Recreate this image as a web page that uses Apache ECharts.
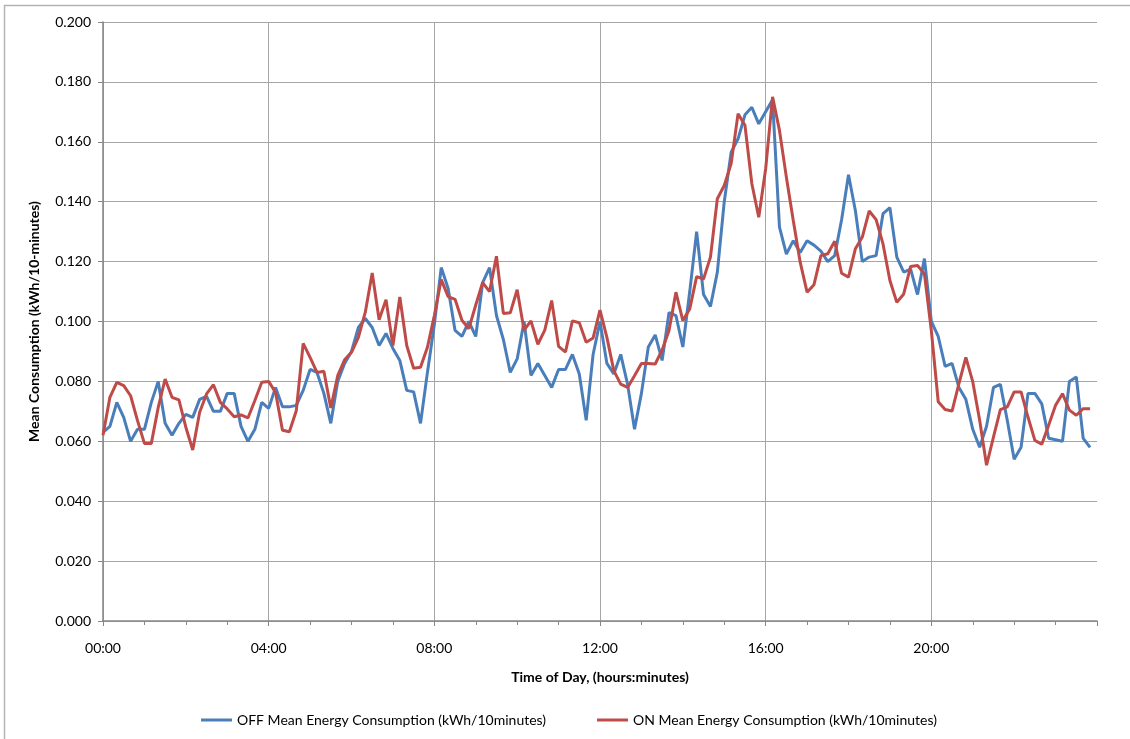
<!DOCTYPE html>
<html>
<head>
<meta charset="utf-8">
<title>Mean Energy Consumption</title>
<script src="https://cdn.jsdelivr.net/npm/echarts@6/dist/echarts.min.js"></script>
<style>
  html, body { margin: 0; padding: 0; background: #fff; }
  #chart { width: 1130px; height: 739px; }
</style>
</head>
<body>
<div id="chart"></div>
<script>
// one sample every 10 minutes, 00:00 .. 23:50 (x in minutes)
const minutes = [];
for (let i = 0; i < 144; i++) minutes.push(i * 10);

const xTickLabels = ["00:00", "04:00", "08:00", "12:00", "16:00", "20:00"];

const offMean = [
  0.063, 0.065, 0.073, 0.068, 0.060, 0.064, 0.064, 0.073, 0.080, 0.066, 0.062, 0.066,
  0.069, 0.068, 0.074, 0.075, 0.070, 0.070, 0.076, 0.076, 0.065, 0.060, 0.064, 0.073,
  0.071, 0.078, 0.0715, 0.0715, 0.072, 0.077, 0.084, 0.083, 0.076, 0.066, 0.080, 0.086,
  0.090, 0.098, 0.101, 0.098, 0.092, 0.096, 0.091, 0.087, 0.077, 0.0765, 0.066, 0.083,
  0.099, 0.118, 0.111, 0.097, 0.095, 0.100, 0.095, 0.113, 0.118, 0.102, 0.094, 0.083,
  0.0875, 0.100, 0.082, 0.086, 0.082, 0.078, 0.084, 0.084, 0.089, 0.0825, 0.067, 0.089,
  0.100, 0.086, 0.0825, 0.089, 0.079, 0.064, 0.076, 0.0915, 0.0955, 0.087, 0.103, 0.102,
  0.0915, 0.110, 0.130, 0.109, 0.105, 0.1165, 0.140, 0.1565, 0.161, 0.169, 0.1715, 0.166,
  0.170, 0.174, 0.1315, 0.1225, 0.127, 0.123, 0.127, 0.1255, 0.1235, 0.120, 0.122, 0.134,
  0.149, 0.137, 0.120, 0.1215, 0.122, 0.136, 0.138, 0.1215, 0.1165, 0.1175, 0.109, 0.121,
  0.100, 0.095, 0.085, 0.086, 0.078, 0.074, 0.064, 0.058, 0.065, 0.078, 0.079, 0.067,
  0.054, 0.058, 0.076, 0.076, 0.0725, 0.061, 0.0605, 0.060, 0.080, 0.0815, 0.061, 0.058
];

const onMean = [
  0.062, 0.0747, 0.0797, 0.0786, 0.0752, 0.0669, 0.0593, 0.0593, 0.0713, 0.0808, 0.0747, 0.0738,
  0.0647, 0.0571, 0.0697, 0.0758, 0.0789, 0.073, 0.0708, 0.0682, 0.0688, 0.0678, 0.0736, 0.0797,
  0.080, 0.0763, 0.0637, 0.0632, 0.0702, 0.0927, 0.088, 0.083, 0.0834, 0.0711, 0.0819, 0.0872,
  0.0897, 0.0947, 0.1031, 0.1162, 0.1006, 0.1073, 0.092, 0.1082, 0.092, 0.0844, 0.0847, 0.0914,
  0.102, 0.114, 0.1083, 0.1074, 0.1004, 0.0976, 0.1055, 0.113, 0.110, 0.1218, 0.1027, 0.1029,
  0.1106, 0.0971, 0.1002, 0.0924, 0.0971, 0.107, 0.0917, 0.0898, 0.1002, 0.0996, 0.0931, 0.0945,
  0.1038, 0.0947, 0.0836, 0.0791, 0.078, 0.0819, 0.086, 0.086, 0.0858, 0.0905, 0.097, 0.1098,
  0.1003, 0.1042, 0.115, 0.1142, 0.1215, 0.141, 0.1454, 0.1527, 0.1694, 0.1655, 0.146, 0.1348,
  0.151, 0.175, 0.1638, 0.1482, 0.1337, 0.1198, 0.1098, 0.1123, 0.122, 0.1226, 0.1268, 0.1161,
  0.1148, 0.1243, 0.1282, 0.1369, 0.134, 0.1259, 0.1137, 0.1064, 0.1092, 0.1184, 0.1187, 0.1159,
  0.097, 0.0732, 0.0706, 0.0701, 0.0793, 0.088, 0.0799, 0.067, 0.052, 0.0614, 0.0706, 0.0715,
  0.0765, 0.0765, 0.0681, 0.0603, 0.059, 0.0654, 0.072, 0.0759, 0.0704, 0.0687, 0.0709, 0.0709
];

const font = "Lato, 'Open Sans', sans-serif";
const axisGray = "#868686";
const gridGray = "#a6a6a6";

const chart = echarts.init(document.getElementById("chart"));
chart.setOption({
  animation: false,
  backgroundColor: "#fff",
  textStyle: { fontFamily: font, color: "#000" },
  graphic: [
    {
      // chart area border (only top and left visible in the picture)
      type: "rect",
      shape: { x: 4.5, y: 5.5, width: 1300, height: 900 },
      style: { fill: null, stroke: "#b4b4b4", lineWidth: 1.5 },
      silent: true
    }
  ],
  grid: { left: 103, right: 33, top: 22, bottom: 118 },
  legend: {
    left: 196,
    top: 708,
    icon: "rect",
    itemWidth: 31,
    itemHeight: 3,
    itemGap: 51,
    textStyle: { fontFamily: font, fontSize: 14, color: "#000" }
  },
  xAxis: {
    type: "value",
    min: 0,
    max: 1440,
    interval: 240,
    name: "Time of Day, (hours:minutes)",
    nameLocation: "middle",
    nameGap: 49,
    nameTextStyle: { fontFamily: font, fontWeight: "bold", fontSize: 14, color: "#000" },
    axisLine: { show: true, lineStyle: { color: axisGray, width: 1.5 } },
    axisTick: { show: true, length: 5, lineStyle: { color: axisGray } },
    minorTick: { show: true, splitNumber: 4, length: 4, lineStyle: { color: axisGray } },
    axisLabel: {
      margin: 20,
      fontSize: 14,
      color: "#000",
      showMaxLabel: false,
      formatter: v => xTickLabels[v / 240] || ""
    },
    splitLine: { show: true, showMaxLine: false, lineStyle: { color: gridGray, width: 1 } }
  },
  yAxis: {
    type: "value",
    min: 0,
    max: 0.2,
    interval: 0.02,
    name: "Mean Consumption (kWh/10-minutes)",
    nameLocation: "middle",
    nameGap: 62,
    nameTextStyle: { fontFamily: font, fontWeight: "bold", fontSize: 14, color: "#000" },
    axisLine: { show: true, lineStyle: { color: axisGray, width: 1.5 } },
    axisTick: { show: true, length: 5, lineStyle: { color: axisGray } },
    axisLabel: { margin: 12, fontSize: 14, color: "#000", formatter: v => v.toFixed(3) },
    splitLine: { show: true, lineStyle: { color: gridGray, width: 1 } }
  },
  series: [
    {
      name: "OFF Mean Energy Consumption (kWh/10minutes)",
      type: "line",
      symbol: "none",
      data: minutes.map((m, i) => [m, offMean[i]]),
      itemStyle: { color: "#4a7ebb" },
      lineStyle: { color: "#4a7ebb", width: 3 }
    },
    {
      name: "ON Mean Energy Consumption (kWh/10minutes)",
      type: "line",
      symbol: "none",
      data: minutes.map((m, i) => [m, onMean[i]]),
      itemStyle: { color: "#be4b48" },
      lineStyle: { color: "#be4b48", width: 3 }
    }
  ]
});
</script>
</body>
</html>
